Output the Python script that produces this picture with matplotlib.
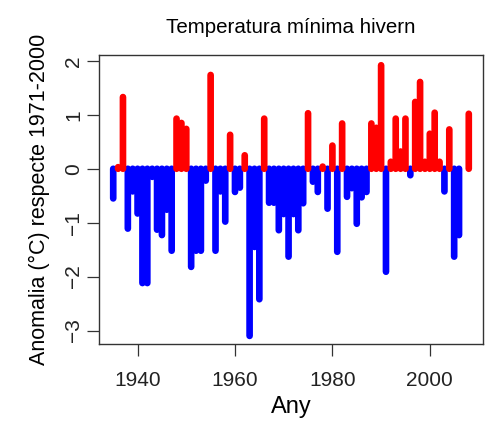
import numpy as np
import matplotlib
matplotlib.use("Agg")
import matplotlib.pyplot as plt
from matplotlib import font_manager

# Winter minimum temperature anomalies (degC) relative to 1971-2000
years = np.arange(1935, 2009)
anomaly = np.array([
    -0.55, 0.03, 1.33, -1.11, -0.42, -0.83, -2.12, -2.12, -0.15, -1.13,   # 1935-1944
    -1.23, -0.76, -1.52, 0.93, 0.85, 0.74, -1.82, -1.52, -1.52, -0.22,     # 1945-1954
    1.74, -1.52, -0.42, -0.98, 0.63, -0.43, -0.35, 0.25, -3.10, -1.45,     # 1955-1964
    -2.42, 0.93, -0.63, -0.63, -1.14, -0.84, -1.63, -0.84, -1.14, -0.64,   # 1965-1974
    1.03, -0.24, -0.43, 0.04, -0.74, 0.43, -1.54, 0.84, -0.52, -0.36,      # 1975-1984
    -1.02, -0.53, -0.43, 0.84, 0.76, 1.92, -1.91, 0.13, 0.93, 0.32,        # 1985-1994
    0.93, -0.12, 1.24, 1.61, 0.13, 0.65, 1.04, 0.13, -0.42, 0.73,          # 1995-2004
    -1.63, -1.23, np.nan, 1.02,                                            # 2005-2008
])

title = "Temperatura mínima hivern"
xlabel = "Any"
ylabel = "Anomalia (°C) respecte 1971-2000"
xticks = [1940, 1960, 1980, 2000]
yticks = [-3, -2, -1, 0, 1, 2]

installed = {f.name for f in font_manager.fontManager.ttflist}
narrow = "Liberation Sans Narrow" if "Liberation Sans Narrow" in installed else "Liberation Sans"
plt.rcParams["font.family"] = ["Liberation Sans", "DejaVu Sans"]

fig = plt.figure(figsize=(4.86, 4.33), dpi=100)
ax = fig.add_axes([99 / 486, 89 / 433, 384 / 486, 289 / 433])

# thick "h"-style lines: blue below zero, red above
neg = anomaly < 0
pos = anomaly >= 0
for mask, col in [(neg, "#0000ff"), (pos, "#ff0000")]:
    lc = ax.vlines(years[mask], 0, anomaly[mask], colors=col, linewidth=4.8)
    lc.set_capstyle("round")
    lc.set_snap(False)

ax.set_xlim(1932.08, 2010.92)
ax.set_ylim(-3.25, 2.11)

ax.set_xticks(xticks)
ax.set_yticks(yticks)
ax.tick_params(axis="both", direction="out", length=8.5, width=0.9,
               color="#333333", labelsize=15, labelcolor="#222222")
ax.tick_params(axis="x", pad=11)
ax.tick_params(axis="y", pad=3)
for lab in ax.get_yticklabels():
    lab.set_rotation(90)
    lab.set_verticalalignment("center")

for s in ax.spines.values():
    s.set_color("#333333")
    s.set_linewidth(1.0)

title_size = 17.5 if narrow.endswith("Narrow") else 14.8
ax.set_title(title, family=[narrow, "DejaVu Sans"], fontsize=title_size, pad=16)
ax.set_xlabel(xlabel, family=[narrow, "DejaVu Sans"], fontsize=17, labelpad=4)
ax.set_ylabel(ylabel, fontsize=15.5, labelpad=10)

fig.savefig("out.png", dpi=100)
